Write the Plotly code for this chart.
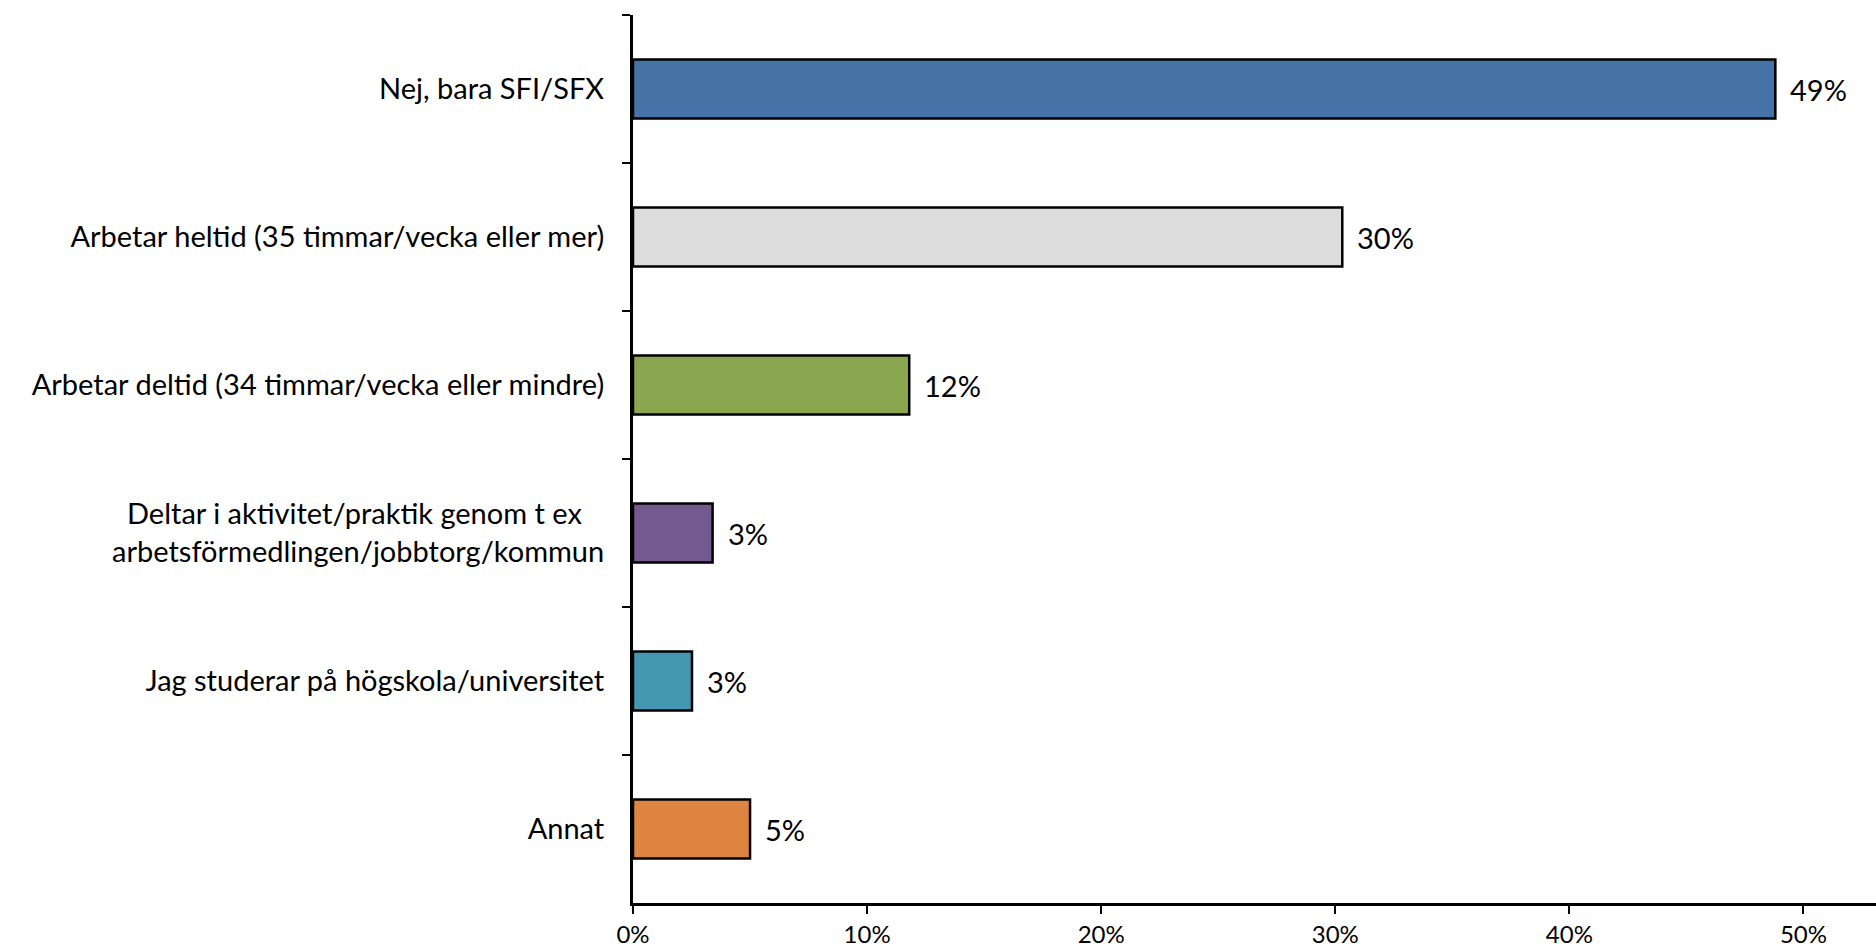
import plotly.graph_objects as go

categories = [
    "Nej, bara SFI/SFX",
    "Arbetar heltid (35 timmar/vecka eller mer)",
    "Arbetar deltid (34 timmar/vecka eller mindre)",
    "Deltar i aktivitet/praktik genom t ex&nbsp;&nbsp;&nbsp;<br>arbetsförmedlingen/jobbtorg/kommun",
    "Jag studerar på högskola/universitet",
    "Annat",
]
values = [0.488, 0.303, 0.118, 0.034, 0.0252, 0.050]
value_labels = ["49%", "30%", "12%", "3%", "3%", "5%"]
bar_colors = ["#4673A7", "#DCDCDC", "#8AA750", "#725A8E", "#4397B0", "#DD8441"]
x_tickvals = [0, 0.1, 0.2, 0.3, 0.4, 0.5]
x_ticktext = ["0%", "10%", "20%", "30%", "40%", "50%"]

FONT = "Lato"

fig = go.Figure()
fig.add_trace(go.Bar(
    x=values,
    y=categories,
    orientation="h",
    width=0.4,
    marker=dict(color=bar_colors, line=dict(color="black", width=2.5)),
    hoverinfo="skip",
))

for v, c, lab in zip(values, categories, value_labels):
    fig.add_annotation(
        x=v, y=c, text=lab, showarrow=False,
        xanchor="left", yanchor="middle", xshift=13,
        font=dict(family=FONT, size=29, color="black"),
    )

fig.update_layout(
    width=1876, height=949,
    margin=dict(l=633, r=0, t=15, b=46, pad=0),
    paper_bgcolor="white", plot_bgcolor="white",
    showlegend=False,
    font=dict(family=FONT, color="black"),
    xaxis=dict(
        range=[0, 0.531], tickvals=x_tickvals, ticktext=x_ticktext,
        showgrid=False, zeroline=False, automargin=False,
        showline=True, linecolor="black", linewidth=3,
        ticks="outside", ticklen=8, tickwidth=2, tickcolor="black",
        tickfont=dict(family=FONT, size=24, color="black"),
        ticklabelstandoff=0,
    ),
    yaxis=dict(
        autorange="reversed", categoryorder="array", categoryarray=categories,
        showgrid=False, zeroline=False, automargin=False,
        showline=True, linecolor="black", linewidth=3,
        ticks="outside", ticklen=8, tickwidth=2, tickcolor="black",
        tickson="boundaries",
        tickfont=dict(family=FONT, size=29, color="black"),
        ticklabelstandoff=20,
    ),
)

fig.write_html(
    "out.html",
    config={"displayModeBar": False},
    post_script="document.body.style.margin='0';document.body.style.overflow='hidden';",
)
